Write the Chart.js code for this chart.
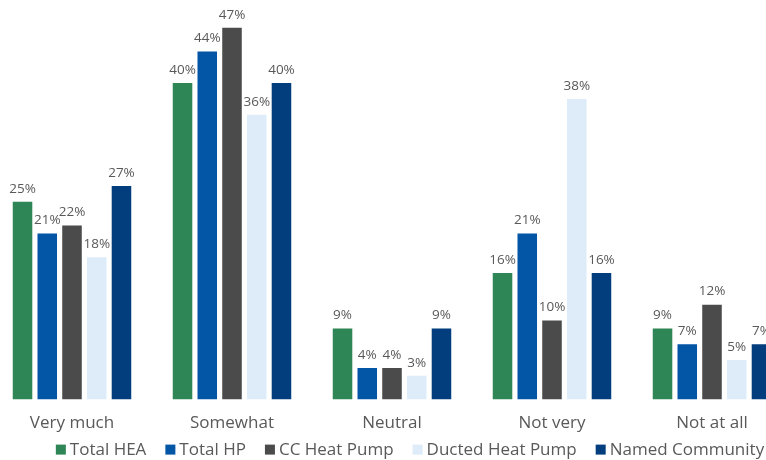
<!DOCTYPE html>
<html>
<head>
<meta charset="utf-8">
<script src="https://cdn.jsdelivr.net/npm/chart.js@4.4.1/dist/chart.umd.min.js"></script>
<style>
  html, body { margin: 0; padding: 0; background: #fff; overflow: hidden; }
  #wrap { position: absolute; left: -8px; top: 0; width: 800px; height: 460px; }
</style>
</head>
<body>
<div id="wrap"><canvas id="responseChart" width="800" height="460"></canvas></div>
<script>
const categories = ['Very much', 'Somewhat', 'Neutral', 'Not very', 'Not at all'];
const seriesNames = ['Total HEA', 'Total HP', 'CC Heat Pump', 'Ducted Heat Pump', 'Named Community'];
const totalHEA = [25, 40, 9, 16, 9];
const totalHP = [21, 44, 4, 21, 7];
const ccHeatPump = [22, 47, 4, 10, 12];
const ductedHeatPump = [18, 36, 3, 38, 5];
const namedCommunity = [27, 40, 9, 16, 7];

const seriesColors = ['#2E8555', '#0355A6', '#4B4B4B', '#DEEBF8', '#023E7D'];
const textGrey = '#595959';
const fontFamily = '"Open Sans", sans-serif';

// percent label above every bar
const barValueLabels = {
  id: 'barValueLabels',
  afterDatasetsDraw(chart) {
    const ctx = chart.ctx;
    ctx.save();
    ctx.font = '13.5px ' + fontFamily;
    ctx.fillStyle = textGrey;
    ctx.textAlign = 'center';
    ctx.textBaseline = 'middle';
    chart.data.datasets.forEach((ds, i) => {
      chart.getDatasetMeta(i).data.forEach((bar, j) => {
        ctx.fillText(ds.data[j] + '%', bar.x, bar.y - 13);
      });
    });
    ctx.restore();
  }
};

// single-row legend under the axis labels, tighter than the built-in one
const bottomLegend = {
  id: 'bottomLegend',
  afterDraw(chart, args, opts) {
    const ctx = chart.ctx;
    const box = 10, gap = 4, itemGap = 19;
    ctx.save();
    ctx.font = '17px ' + fontFamily;
    ctx.textBaseline = 'middle';
    const items = chart.data.datasets.map(ds => ({
      label: ds.label,
      color: ds.backgroundColor,
      w: ctx.measureText(ds.label).width
    }));
    const total = items.reduce((s, it) => s + box + gap + it.w, 0) + itemGap * (items.length - 1);
    let x = opts.centerX - total / 2;
    const y = chart.chartArea.bottom + opts.offsetY;
    items.forEach(it => {
      ctx.fillStyle = it.color;
      ctx.fillRect(x, y - box / 2, box, box);
      ctx.fillStyle = textGrey;
      ctx.fillText(it.label, x + box + gap, y + 1);
      x += box + gap + it.w + itemGap;
    });
    ctx.restore();
  }
};

const seriesData = [totalHEA, totalHP, ccHeatPump, ductedHeatPump, namedCommunity];

new Chart(document.getElementById('responseChart'), {
  type: 'bar',
  data: {
    labels: categories,
    datasets: seriesNames.map((name, i) => ({
      label: name,
      data: seriesData[i],
      backgroundColor: seriesColors[i],
      borderWidth: 0,
      categoryPercentage: 0.773,
      barPercentage: 0.79
    }))
  },
  options: {
    responsive: false,
    animation: false,
    layout: { padding: { top: 4, left: 0, right: 0, bottom: 14 } },
    scales: {
      x: {
        grid: { display: false, drawTicks: false },
        border: { display: false },
        ticks: { color: textGrey, font: { family: fontFamily, size: 17 }, padding: 13 }
      },
      y: { display: false, min: 0, max: 50 }
    },
    plugins: {
      legend: { display: false },
      tooltip: { enabled: false },
      bottomLegend: { centerX: 418, offsetY: 50 }
    }
  },
  plugins: [barValueLabels, bottomLegend]
});
</script>
</body>
</html>
